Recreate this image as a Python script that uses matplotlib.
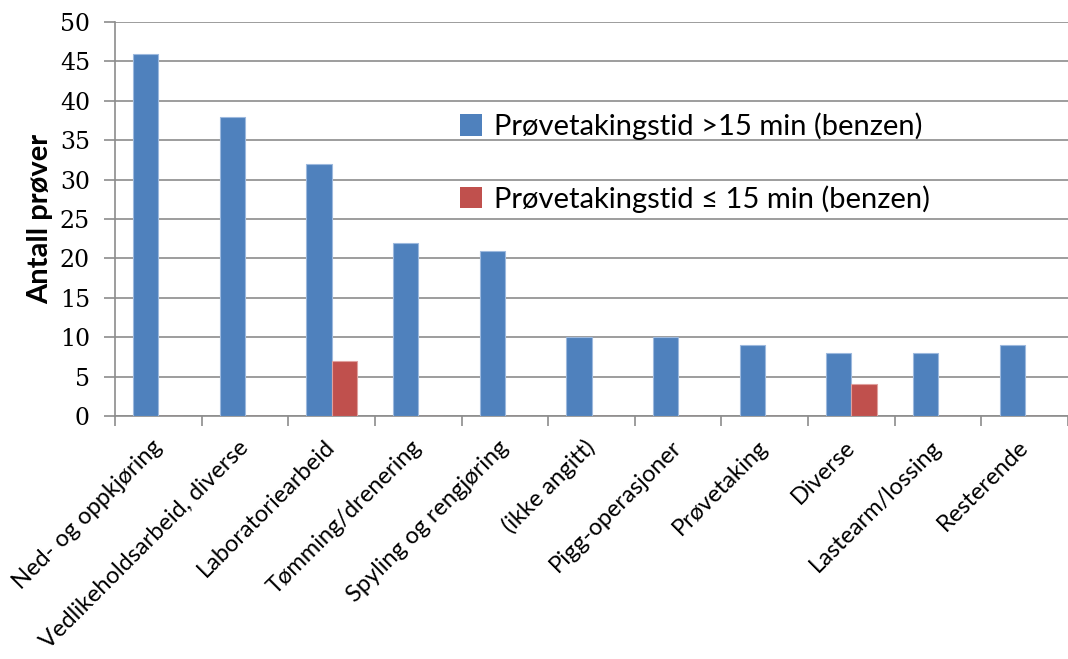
import matplotlib
matplotlib.use("Agg")
import matplotlib.pyplot as plt
import numpy as np
from matplotlib.patches import Patch

categories = [
    "Ned- og oppkjøring",
    "Vedlikeholdsarbeid, diverse",
    "Laboratoriearbeid",
    "Tømming/drenering",
    "Spyling og rengjøring",
    "(ikke angitt)",
    "Pigg-operasjoner",
    "Prøvetaking",
    "Diverse",
    "Lastearm/lossing",
    "Resterende",
]
long_samples = [46, 38, 32, 22, 21, 10, 10, 9, 8, 8, 9]
short_samples = [0, 0, 7, 0, 0, 0, 0, 0, 4, 0, 0]
series_labels = [
    "Prøvetakingstid >15 min (benzen)",
    "Prøvetakingstid \u2264 15 min (benzen)",
]
yticks = [0, 5, 10, 15, 20, 25, 30, 35, 40, 45, 50]

BLUE = "#4F81BD"
RED = "#C0504D"
GRID = "#8C8C8C"
SANS = ["Lato", "DejaVu Sans"]

fig = plt.figure(figsize=(10.68, 6.59), dpi=100)
ax = fig.add_axes([115 / 1068, 1 - 416 / 659, 1 - 115 / 1068, (416 - 22) / 659])

x = np.arange(len(categories))
w = 0.29
ax.bar(x - w / 2, long_samples, width=w, color=BLUE, edgecolor="#9DB9DE",
       linewidth=0.8, zorder=3)
ax.bar(x + w / 2, short_samples, width=w, color=RED, edgecolor="#E0A09E",
       linewidth=0.8, zorder=3)

ax.set_xlim(-0.5, len(categories) - 0.5)
ax.set_ylim(0, 50)
ax.set_yticks(yticks)
ax.yaxis.grid(True, color=GRID, linewidth=1.2, zorder=0)
ax.set_axisbelow(True)

for s in ["top", "right"]:
    ax.spines[s].set_visible(False)
for s in ["left", "bottom"]:
    ax.spines[s].set_color(GRID)
    ax.spines[s].set_linewidth(1.2)

ax.tick_params(axis="y", length=8, width=1.2, color=GRID, pad=10)
for lab in ax.get_yticklabels():
    lab.set_fontfamily("DejaVu Serif")
    lab.set_fontsize(17)

# category boundaries carry the tick marks; labels sit at the centres
ax.set_xticks(np.arange(len(categories) + 1) - 0.5)
ax.set_xticklabels([])
ax.tick_params(axis="x", length=7, width=1.2, color=GRID)
ax.set_xticks(x, minor=True)
ax.set_xticklabels(categories, minor=True, rotation=45, ha="right",
                   va="center", rotation_mode="anchor",
                   fontfamily=SANS, fontsize=17)
ax.tick_params(axis="x", which="minor", length=0, pad=20)

ax.set_ylabel("Antall prøver", fontfamily=SANS, fontsize=21,
              fontweight="bold", labelpad=5)

handles = [Patch(facecolor=BLUE), Patch(facecolor=RED)]
ax.legend(handles, series_labels, loc="upper left",
          bbox_to_anchor=(0.35, 0.80), frameon=False,
          prop={"family": SANS, "size": 21},
          handlelength=0.75, handleheight=0.75, handletextpad=0.4,
          labelspacing=1.55, borderaxespad=0)

fig.savefig("out.png", dpi=100, facecolor="white")
